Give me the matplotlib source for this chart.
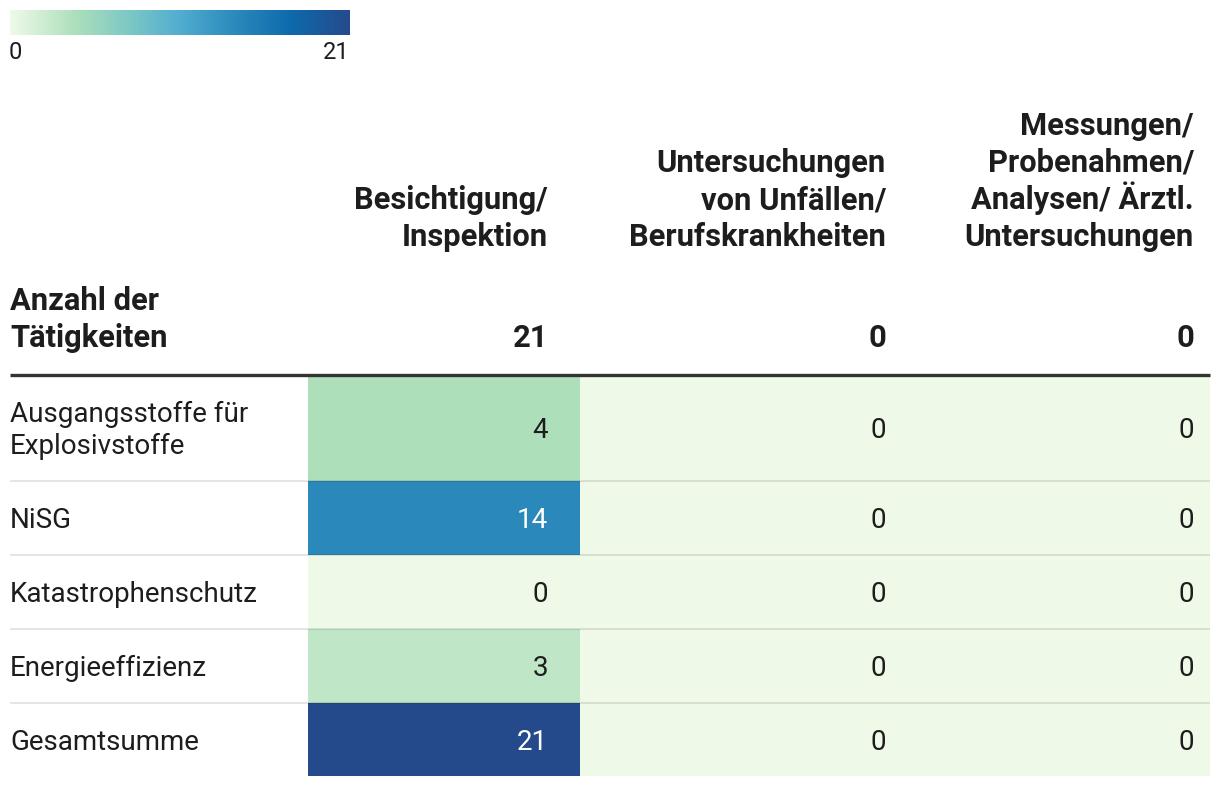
import numpy as np
import matplotlib
matplotlib.use("Agg")
import matplotlib.pyplot as plt
from matplotlib.colors import LinearSegmentedColormap, Normalize
from matplotlib.cm import ScalarMappable
from matplotlib.patches import Rectangle

plt.rcParams['font.family'] = ['Roboto', 'DejaVu Sans']

# table content
categories = ["Ausgangsstoffe für\nExplosivstoffe", "NiSG", "Katastrophenschutz",
              "Energieeffizienz", "Gesamtsumme"]
columns = ["Besichtigung/\nInspektion",
           "Untersuchungen\nvon Unfällen/\nBerufskrankheiten",
           "Messungen/\nProbenahmen/\nAnalysen/ Ärztl.\nUntersuchungen"]
besichtigung = [4, 14, 0, 3, 21]
untersuchungen = [0, 0, 0, 0, 0]
messungen = [0, 0, 0, 0, 0]
totals = [21, 0, 0]
corner_label = "Anzahl der\nTätigkeiten"
vmin, vmax = 0, 21

values = np.array([besichtigung, untersuchungen, messungen]).T

cmap = LinearSegmentedColormap.from_list("gnbu", [
    (0.0, "#eff9e8"), (0.19, "#addfbb"), (0.35, "#7bc8c4"), (0.5, "#50acd0"),
    (0.667, "#2a88bb"), (0.83, "#0d69ab"), (1.0, "#254a8b")])
norm = Normalize(vmin, vmax)

W, H = 1220, 786
fig = plt.figure(figsize=(W / 100, H / 100), dpi=100)
ax = fig.add_axes([0, 0, 1, 1])
ax.set_xlim(0, W)
ax.set_ylim(H, 0)
ax.axis("off")

# layout (pixels)
left, right = 10, 1210
col_edges = [308, 580, 895, 1210]
text_right = [548, 886, 1194]
row_edges = [376, 481, 555, 629, 703, 776]
fs_reg = 20
fs_head = 22.2
dark = "#1d1d1d"

# colorbar legend
cax = fig.add_axes([10 / W, 1 - 35 / H, 340 / W, 25 / H])
cb = fig.colorbar(ScalarMappable(norm=norm, cmap=cmap), cax=cax, orientation="horizontal")
cb.outline.set_visible(False)
cax.set_xticks([])
ax.text(9, 59, str(vmin), ha="left", va="baseline", fontsize=17, color=dark)
ax.text(349, 59, str(vmax), ha="right", va="baseline", fontsize=17, color=dark)

# column headers (bottom line baseline at 246, 37px line spacing)
for j, head in enumerate(columns):
    lines = head.split("\n")
    for k, line in enumerate(lines):
        y = 246 - 37 * (len(lines) - 1 - k)
        ax.text(text_right[j], y, line, ha="right", va="baseline",
                fontsize=fs_head, fontweight="bold", color=dark)

for k, line in enumerate(corner_label.split("\n")):
    ax.text(left, 310 + 37 * k, line, ha="left", va="baseline",
            fontsize=fs_head, fontweight="bold", color=dark)
for j, t in enumerate(totals):
    ax.text(text_right[j], 347, str(t), ha="right", va="baseline",
            fontsize=fs_head, fontweight="bold", color=dark)

# heatmap cells
for i in range(len(categories)):
    y0, y1 = row_edges[i], row_edges[i + 1]
    yc = (y0 + y1) / 2
    for j in range(len(columns)):
        v = values[i, j]
        ax.add_patch(Rectangle((col_edges[j], y0), col_edges[j + 1] - col_edges[j],
                               y1 - y0, facecolor=cmap(norm(v)), edgecolor="none"))
        tc = "white" if norm(v) > 0.55 else dark
        ax.text(text_right[j], yc + 10, str(v), ha="right", va="baseline",
                fontsize=fs_reg, color=tc)
    lines = categories[i].split("\n")
    for k, line in enumerate(lines):
        y = yc + 10 + 32 * (k - (len(lines) - 1) / 2)
        ax.text(left, y, line, ha="left", va="baseline", fontsize=fs_reg, color=dark)

# separators
for y in row_edges[1:-1]:
    ax.plot([left, right], [y, y], color="black", alpha=0.1, lw=1.5,
            solid_capstyle="butt")
ax.plot([left, right], [374.5, 374.5], color="#333333", lw=2.4, solid_capstyle="butt")

fig.savefig("out.png", dpi=100)
